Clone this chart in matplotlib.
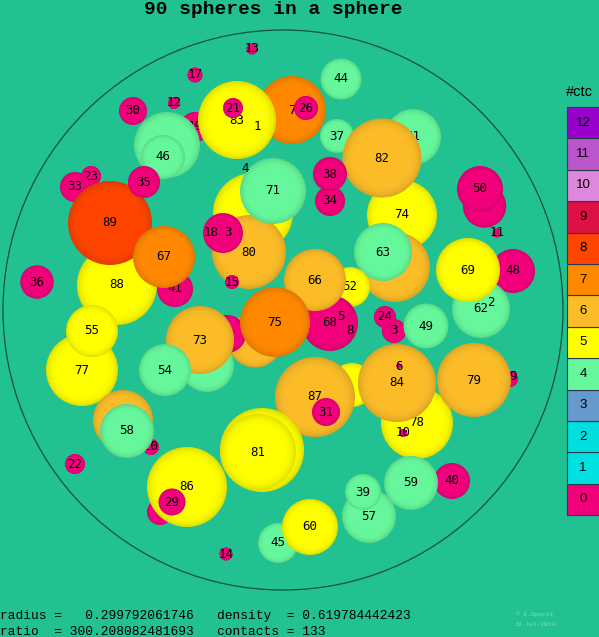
import matplotlib
matplotlib.use('Agg')
import matplotlib.pyplot as plt
from matplotlib.patches import Circle, Rectangle
from matplotlib.colors import to_rgb

BG = '#21c191'

# colour for each contact count 0..12
CTC_COLORS = ['#f2007c', '#00e0e0', '#00dede', '#6699cc', '#66f79c', '#ffff00',
              '#fbbc28', '#ff8800', '#ff4400', '#dd1144', '#dd88dd', '#bb55cc', '#9900cc']
CTC_LEVELS = list(range(13))

# spheres in drawing order (back to front); label '' = number hidden
labels = ['19', '', '46', '30', '12', '17', '13', '7', '83', '21', '26', '44', '37', '61',
          '74', '82', '34', '38', '11', '27', '50', '', '63', '48', '62', '69', '3', '24',
          '49', '52', '68', '66', '', '80', '71', '', '15', '23', '33', '88', '89', '35',
          '41', '67', '36', '77', '55', '', '', '', '73', '54', '75', '', '20', '58', '22',
          '', '86', '29', '', '87', '31', '', '81', '78', '10', '84', '6', '', '79', '40',
          '59', '57', '39', '45', '60', '14']
xs = [195, 167, 163, 133, 174, 195, 252, 292, 237, 233, 306, 341, 337, 413,
      402, 382, 330, 330, 497, 484.5, 480, 395, 383, 513, 481, 468, 394, 385,
      426, 350, 330, 315, 253, 249, 273, 223, 232, 91, 75, 117, 110, 144,
      175, 164, 37, 82, 92, 255, 227, 207, 200, 165, 275, 123, 151, 127, 75,
      160, 187, 172, 352, 315, 326, 262, 258, 417, 403, 397, 399, 510, 474, 452,
      411, 369, 363, 278, 310, 226]
ys = [127, 145, 157, 111, 103, 75, 49, 110, 120, 108, 108, 79, 136, 137,
      215, 158, 201, 174, 233, 206, 189, 267, 252, 271, 309, 270, 331, 317,
      326, 287, 323, 280, 213, 252, 191, 233, 282, 176, 187, 285, 223, 182,
      289, 257, 282, 370, 331, 340, 334, 365, 340, 370, 322, 420, 447, 431, 464,
      512, 487, 502, 385, 397, 412, 450, 452, 423, 433, 383, 366, 379, 380, 481,
      483, 516, 492, 543, 527, 554]
rs = [15, 33, 22, 14, 6, 7.5, 5.5, 34, 39, 10, 12, 20.5, 17, 28,
      35, 39.5, 15, 17, 4.5, 21.7, 23, 35, 29, 22, 29, 32, 12, 11,
      22.5, 20, 28, 31, 40, 37, 33, 20, 7, 10, 15, 40, 42, 16,
      18, 31, 16.7, 36, 26, 27.5, 19, 27, 34, 26, 35, 30, 8, 27, 10,
      13, 40, 13.5, 22, 40, 14, 42, 38, 36, 4, 39, 2.5, 8, 37, 18,
      27, 27, 18, 20, 28, 6.5]
ctcs = [0, 4, 4, 0, 0, 0, 0, 7, 5, 0, 0, 4, 4, 4,
        5, 6, 0, 0, 0, 0, 0, 6, 4, 0, 4, 5, 0, 0,
        4, 5, 0, 6, 5, 6, 4, 0, 0, 0, 0, 5, 8, 0,
        0, 7, 0, 5, 5, 6, 0, 4, 6, 4, 7, 6, 0, 4, 0,
        0, 5, 0, 5, 6, 0, 5, 5, 5, 0, 6, 0, 0, 6, 0,
        4, 4, 4, 4, 5, 0]

# numbers of spheres that are (mostly) hidden but whose label shows through
float_labels = ['1', '2', '5', '8', '4', '9', '18', '3']
float_x = [257, 491, 341, 350, 245, 513, 211, 228]
float_y = [126, 303, 317, 331, 168, 377, 233, 233]

title = '90 spheres in a sphere'
info_1 = 'radius =   0.299792061746   density  = 0.619784442423'
info_2 = 'ratio  = 300.208082481693   contacts = 133'


def shade(col, f):
    r, g, b = to_rgb(col)
    return (r * f, g * f, b * f)


fig = plt.figure(figsize=(5.99, 6.37), dpi=100)
fig.patch.set_facecolor(BG)
ax = fig.add_axes([0, 0, 1, 1])
ax.set_facecolor(BG)
ax.set_xlim(0, 599)
ax.set_ylim(637, 0)
ax.axis('off')

# container sphere
ax.add_patch(Circle((283, 310), 280, fill=False, ec='#174f40', lw=0.9, zorder=1))

# soft darkening towards the rim
layers = [(1.0, 0.88), (0.97, 0.91), (0.93, 0.94), (0.88, 0.97), (0.82, 0.99), (0.74, 1.0)]
for i, (lab, x, y, r, c) in enumerate(zip(labels, xs, ys, rs, ctcs)):
    z = 2 + i * 2
    col = CTC_COLORS[c]
    for k, (rf, f) in enumerate(layers):
        ax.add_patch(Circle((x, y), r * rf, color=shade(col, f), lw=0, zorder=z + k * 0.1))
    if lab:
        ax.text(x, y, lab, ha='center', va='center', fontsize=9,
                family='DejaVu Sans Mono', color='black', zorder=z + 1)

for lab, x, y in zip(float_labels, float_x, float_y):
    ax.text(x, y, lab, ha='center', va='center', fontsize=9,
            family='DejaVu Sans Mono', color='black', zorder=500)

# colour key
box_h = 31.4
for lvl in CTC_LEVELS:
    top = 107 + (12 - lvl) * box_h
    ax.add_patch(Rectangle((567, top), 40, box_h, fc=CTC_COLORS[lvl], ec='#2a3a50',
                           lw=0.8, zorder=600, clip_on=False))
    ax.text(583, top + box_h / 2, str(lvl), ha='center', va='center', fontsize=9.5,
            family='Liberation Sans', color='black', zorder=601)
ax.text(566, 92, '#ctc', ha='left', va='center', fontsize=10.5,
        family='Liberation Sans', color='black')

ax.text(273, 9, title, ha='center', va='center', fontsize=14,
        family='Liberation Mono', fontweight='bold', color='black')
ax.text(0, 616, info_1, ha='left', va='center', fontsize=9.3,
        family='Liberation Mono', color='black')
ax.text(0, 632, info_2, ha='left', va='center', fontsize=9.3,
        family='Liberation Mono', color='black')
ax.text(535, 614, '\u00a9 E.Specht', ha='center', va='center', fontsize=4.5,
        family='Liberation Mono', color='#86dcbc')
ax.text(535, 624, '18-Jul-2014', ha='center', va='center', fontsize=4.5,
        family='Liberation Mono', color='#86dcbc')

fig.savefig('out.png', dpi=100, facecolor=BG)
plt.close(fig)
